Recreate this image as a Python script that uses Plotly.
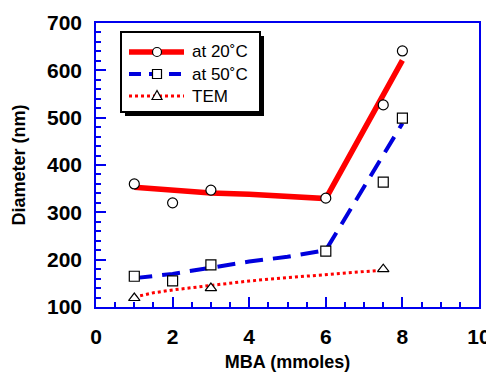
import plotly.graph_objects as go

# Measured points (markers)
x20 = [1, 2, 3, 6, 7.5, 8]
y20 = [360, 320, 347, 330, 527, 641]
x50 = [1, 2, 3, 6, 7.5, 8]
y50 = [165, 155, 189, 218, 364, 499]
xtem = [1, 3, 7.5]
ytem = [119, 140, 180]

# Trend lines
x20_line = [1, 2, 3, 4, 5, 6, 8]
y20_line = [353, 346, 341, 338, 334, 329, 621]
x50_line = [1, 2, 3, 4, 5, 6, 8]
y50_line = [161, 170, 183, 196, 206, 220, 488]
xtem_line = [1, 1.5, 2, 3, 4, 5, 6, 7, 7.5]
ytem_line = [121, 130, 136, 146, 155, 162, 169, 175, 178]

names = ["at 20˚C", "at 50˚C", "TEM"]

RED = "#ff0000"
BLUE = "#0000dd"
mk = dict(color="white", size=10, line=dict(color="black", width=1.2))
FONT = "Liberation Sans, Arial"

fig = go.Figure()
fig.add_trace(go.Scatter(x=x20_line, y=y20_line, mode="lines", showlegend=False,
                         line=dict(color=RED, width=5.5)))
fig.add_trace(go.Scatter(x=x50_line, y=y50_line, mode="lines", showlegend=False,
                         line=dict(color=BLUE, width=4, dash="18px,10px")))
fig.add_trace(go.Scatter(x=xtem_line, y=ytem_line, mode="lines", showlegend=False,
                         line=dict(color=RED, width=3, dash="3px,3px")))
fig.add_trace(go.Scatter(x=x20, y=y20, mode="markers", name=names[0], showlegend=False,
                         marker=dict(symbol="circle", **mk)))
fig.add_trace(go.Scatter(x=x50, y=y50, mode="markers", name=names[1], showlegend=False,
                         marker=dict(symbol="square", **mk)))
fig.add_trace(go.Scatter(x=xtem, y=ytem, mode="markers", name=names[2], showlegend=False,
                         marker=dict(symbol="triangle-up", **mk)))

axis_common = dict(
    showgrid=False, zeroline=False, showline=True, linecolor="#0000ee", linewidth=1.5,
    mirror=True, ticks="inside", tickcolor="#0000ee", tickwidth=1.5, ticklen=10,
    automargin=False,
    tickfont=dict(family=FONT, size=21, color="black", weight="bold"),
)
fig.update_xaxes(range=[0, 10], tickvals=[0, 2, 4, 6, 8, 10], ticklabelstandoff=10,
                 minor=dict(dtick=0.5, ticks="inside", ticklen=5, tickcolor="#0000ee", tickwidth=1.5),
                 title=dict(text="MBA (mmoles)", standoff=8,
                            font=dict(family=FONT, size=18, color="black", weight="bold")),
                 **axis_common)
fig.update_yaxes(range=[100, 700], tickvals=[100, 200, 300, 400, 500, 600, 700], ticklabelstandoff=8,
                 minor=dict(dtick=20, ticks="inside", ticklen=5, tickcolor="#0000ee", tickwidth=1.5),
                 title=dict(text="Diameter (nm)", standoff=17,
                            font=dict(family=FONT, size=18, color="black", weight="bold")),
                 **axis_common)

# ---- hand-made legend (pixel layout converted to plot-area paper coords) ----
PX0, PX1, PY0, PY1 = 96, 479, 23, 307
def px(v):
    return (v - PX0) / (PX1 - PX0)
def py(v):
    return (PY1 - v) / (PY1 - PY0)

shapes = []
shapes.append(dict(type="rect", xref="paper", yref="paper", x0=px(125), x1=px(264), y0=py(116), y1=py(36),
                   fillcolor="black", line=dict(width=0), layer="above"))
shapes.append(dict(type="rect", xref="paper", yref="paper", x0=px(121), x1=px(260), y0=py(112), y1=py(32),
                   fillcolor="white", line=dict(color="black", width=2), layer="above"))
rows = [52, 74, 96]
styles = [dict(color=RED, width=5.5, dash="solid"),
          dict(color=BLUE, width=4, dash="12px,8px"),
          dict(color=RED, width=3, dash="3px,3px")]
for ry, st in zip(rows, styles):
    shapes.append(dict(type="line", xref="paper", yref="paper", x0=px(129), x1=px(184), y0=py(ry), y1=py(ry),
                       line=st, layer="above"))
mx, r = 157, 4.5
# circle
shapes.append(dict(type="circle", xref="paper", yref="paper", x0=px(mx - r), x1=px(mx + r),
                   y0=py(rows[0] + r), y1=py(rows[0] - r), fillcolor="white",
                   line=dict(color="black", width=1.2), layer="above"))
# square
shapes.append(dict(type="rect", xref="paper", yref="paper", x0=px(mx - r), x1=px(mx + r),
                   y0=py(rows[1] + r), y1=py(rows[1] - r), fillcolor="white",
                   line=dict(color="black", width=1.2), layer="above"))
# triangle
ty = rows[2]
tri = "M{:.5f},{:.5f} L{:.5f},{:.5f} L{:.5f},{:.5f} Z".format(
    px(mx), py(ty - 5.5), px(mx - 5), py(ty + 3.5), px(mx + 5), py(ty + 3.5))
shapes.append(dict(type="path", xref="paper", yref="paper", path=tri, fillcolor="white",
                   line=dict(color="black", width=1.2), layer="above"))

annotations = []
for ry, nm in zip(rows, names):
    annotations.append(dict(xref="paper", yref="paper", x=px(190), y=py(ry), text=nm, showarrow=False,
                            xanchor="left", yanchor="middle",
                            font=dict(family=FONT, size=17, color="black")))

# page body has an 8px margin; compensate so the plot lands where the reference has it
fig.update_layout(
    width=486, height=366,
    margin=dict(l=88, r=15, t=15, b=67),
    paper_bgcolor="white", plot_bgcolor="white",
    showlegend=False,
    shapes=shapes, annotations=annotations,
)

fig.write_html("out.html")
